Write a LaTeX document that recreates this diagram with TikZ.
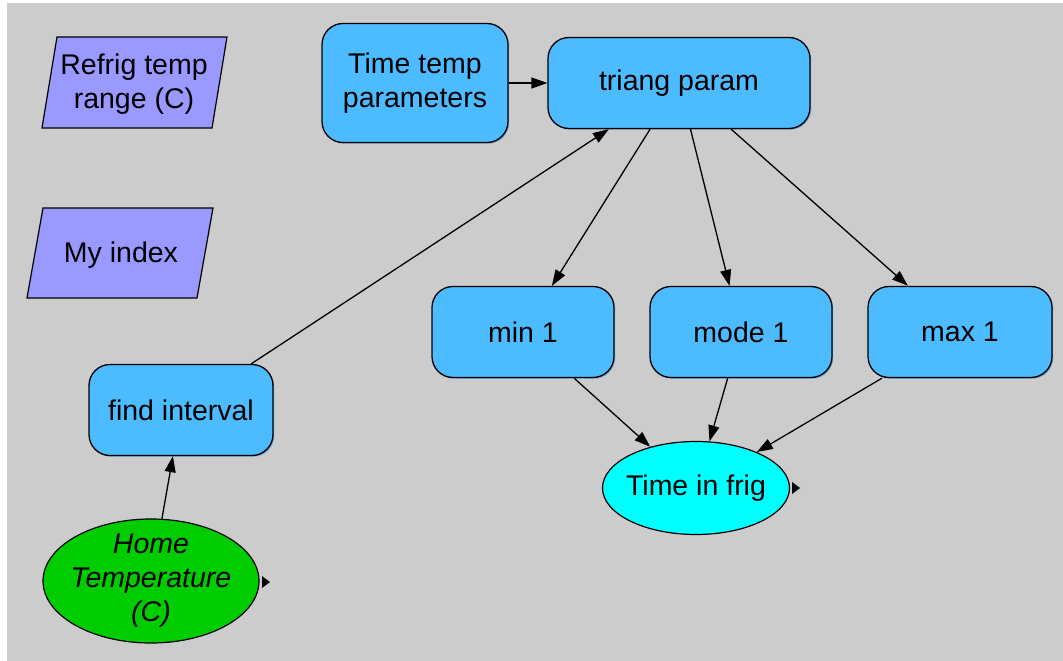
\documentclass[tikz,border=0pt]{standalone}
\usepackage{fontspec}
\setmainfont{Liberation Sans}
\usetikzlibrary{arrows.meta,shapes.geometric,shadows}
\definecolor{canvas}{RGB}{204,204,204}
\definecolor{varblue}{RGB}{77,187,255}
\definecolor{shadeblue}{RGB}{40,140,210}
\definecolor{indexviolet}{RGB}{153,153,255}
\definecolor{chancegreen}{RGB}{0,204,0}
\definecolor{objcyan}{RGB}{0,255,255}
\tikzset{
  lbl/.style={font=\fontsize{28.5}{33.5}\selectfont, align=center},
  varbox/.style={lbl, draw=black, line width=1.3pt, fill=varblue, rounded corners=21pt,
    inner sep=0pt, drop shadow={shadow xshift=1.2pt, shadow yshift=-1.2pt, fill=shadeblue, opacity=0.6}},
  chance/.style={ellipse, draw=black, line width=1.2pt, inner sep=0pt},
  idxshape/.style={draw=black, line width=1.2pt, fill=indexviolet},
  link/.style={draw=black, line width=1.3pt, -{Triangle[length=16pt,width=11pt]}},
  outmark/.style={fill=black},
}
\begin{document}
\begin{tikzpicture}[x=1pt,y=-1pt]
\useasboundingbox (0,0) rectangle (1063,661);
\fill[white] (0,0) rectangle (1063,661);
\fill[canvas] (7,3) rectangle (1063,661);

% index parallelograms
\path[idxshape] (57,37) -- (227,37) -- (212,128) -- (42,128) -- cycle;
\node[lbl] (refrig) at (134,84) {Refrig temp\\range (C)};
\path[idxshape] (43,208) -- (213,208) -- (197,298) -- (27,298) -- cycle;
\node[lbl] (myidx) at (121,255) {My index};

% variable boxes
\node[varbox, minimum width=186pt, minimum height=119pt] (ttp) at (415,83) {Time temp\\parameters};
\node[varbox, minimum width=262pt, minimum height=91pt] (tri) at (679,83) {triang param};
\node[varbox, minimum width=182pt, minimum height=91pt] (min) at (523,332) {min 1};
\node[varbox, minimum width=182pt, minimum height=91pt] (mode) at (741,332) {mode 1};
\node[varbox, minimum width=184pt, minimum height=91pt] (max) at (960,332) {max 1};
\node[varbox, minimum width=184pt, minimum height=91pt] (find) at (181,410) {find interval};

% chance and objective ellipses, with their labels set on top
\node[chance, fill=objcyan, minimum width=187pt, minimum height=93pt] (frig) at (696,488) {};
\node[lbl] (frigtext) at (frig.center) {Time in frig};
\node[chance, fill=chancegreen, minimum width=216pt, minimum height=124pt] (home) at (151,581) {};
\node[lbl, font=\fontsize{28.5}{34}\selectfont\itshape] (hometext) at (home.center) {Home\\Temperature\\(C)};

% output markers
\coordinate (frigout) at (792,488);
\coordinate (homeout) at (262,582);
\fill[outmark] (frigout) ++(0,-6) -- ++(8,6) -- ++(-8,6) -- cycle;
\fill[outmark] (homeout) ++(0,-6) -- ++(8,6) -- ++(-8,6) -- cycle;

% influences
\draw[link] (ttp) -- (tri);
\draw[link] (find) -- (tri);
\draw[link] (tri) -- (min);
\draw[link] (tri) -- (mode);
\draw[link] (tri) -- (max);
\draw[link] (min) -- (frig);
\draw[link] (mode) -- (frig);
\draw[link] (max) -- (frig);
\draw[link] (home) -- (find);
\end{tikzpicture}
\end{document}
